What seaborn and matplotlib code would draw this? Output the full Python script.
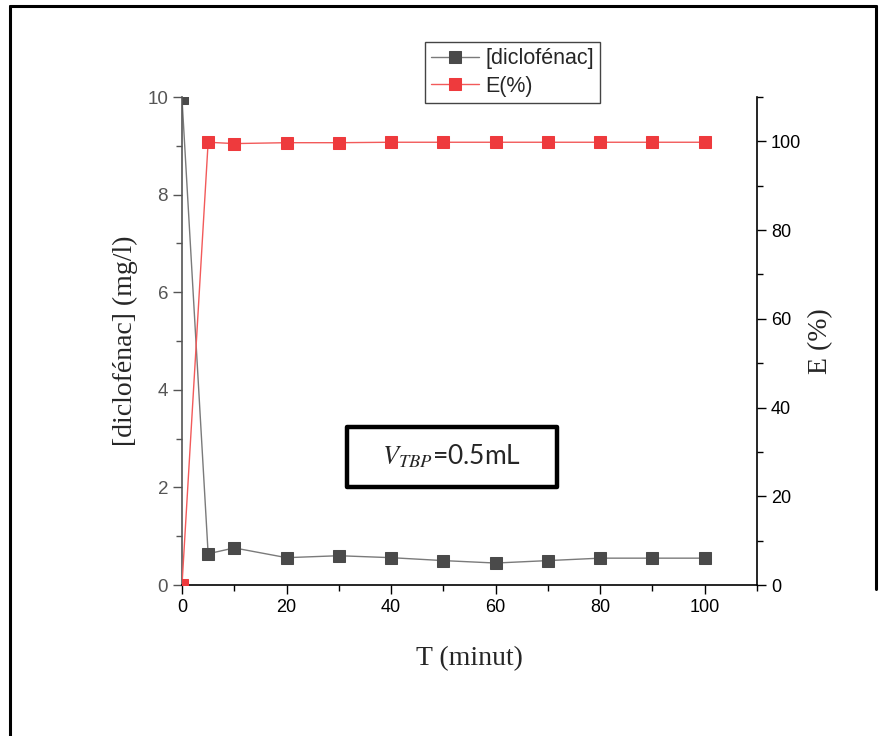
import matplotlib
matplotlib.use("Agg")
import matplotlib.pyplot as plt
from matplotlib.lines import Line2D
from matplotlib.patches import Rectangle
from matplotlib.ticker import MultipleLocator
import seaborn as sns
import pandas as pd

# time (min)
t = [0, 5, 10, 20, 30, 40, 50, 60, 70, 80, 90, 100]
# diclofenac concentration (mg/l)
conc = [9.97, 0.64, 0.76, 0.56, 0.60, 0.56, 0.50, 0.45, 0.50, 0.55, 0.55, 0.55]
# extraction efficiency E(%)
eff = [0, 99.8, 99.5, 99.7, 99.7, 99.8, 99.8, 99.8, 99.8, 99.8, 99.8, 99.8]

df = pd.DataFrame({"t": t, "conc": conc, "eff": eff})

sns.set_style("ticks")
plt.rcParams["font.family"] = ["Liberation Sans", "DejaVu Sans"]
plt.rcParams["mathtext.fontset"] = "stix"

fig = plt.figure(figsize=(8.82, 7.36), dpi=100)
ax = fig.add_axes([182 / 882, 1 - 585 / 736, 575 / 882, 488 / 736])
ax2 = ax.twinx()

grey = "#555555"
sns.lineplot(data=df, x="t", y="conc", ax=ax, color="#7a7a7a", lw=1,
             marker="s", markersize=8, markerfacecolor="#4a4a4a",
             markeredgecolor="#4a4a4a", label="[diclofénac]", legend=False)
sns.lineplot(data=df, x="t", y="eff", ax=ax2, color="#f25a5a", lw=1,
             marker="s", markersize=8, markerfacecolor="#ee3a3d",
             markeredgecolor="#ee3a3d", label="E(%)", legend=False)

ax.set_xlim(0, 110)
ax.set_ylim(0, 10)
ax2.set_ylim(0, 110)
ax.xaxis.set_major_locator(MultipleLocator(20))
ax.xaxis.set_minor_locator(MultipleLocator(10))
ax.yaxis.set_major_locator(MultipleLocator(2))
ax.yaxis.set_minor_locator(MultipleLocator(1))
ax2.yaxis.set_major_locator(MultipleLocator(20))
ax2.yaxis.set_minor_locator(MultipleLocator(10))
ax.set_xticks([0, 20, 40, 60, 80, 100])

for a in (ax, ax2):
    a.spines["top"].set_visible(False)
ax.spines["right"].set_visible(False)
ax2.spines["left"].set_visible(False)
ax2.spines["bottom"].set_visible(False)
ax.spines["left"].set_color(grey)
ax.spines["left"].set_linewidth(1.2)
ax.spines["bottom"].set_color("black")
ax.spines["bottom"].set_linewidth(1.2)
ax2.spines["right"].set_color("black")
ax2.spines["right"].set_linewidth(1.2)

ax.tick_params(axis="x", which="major", length=6.5, width=1, labelsize=13,
               colors="black", direction="out")
ax.tick_params(axis="x", which="minor", length=4, width=1, colors="black")
ax.tick_params(axis="y", which="major", length=6.5, width=1, labelsize=13.5,
               colors=grey, direction="out")
ax.tick_params(axis="y", which="minor", length=4, width=1, colors=grey)
ax2.tick_params(axis="y", which="major", length=6.5, width=1, labelsize=13,
                colors="black", direction="out")
ax2.tick_params(axis="y", which="minor", length=4, width=1, colors="black")

serif = ["Liberation Serif", "DejaVu Serif"]
ax.set_xlabel("T (minut)", family=serif, fontsize=20, labelpad=22)
ax.set_ylabel("[diclofénac] (mg/l)", family=serif, fontsize=20, labelpad=7)
ax2.set_ylabel("E (%)", family=serif, fontsize=20, labelpad=5)

# annotation box
ax.add_patch(Rectangle((31.5, 2.01), 40.2, 1.23, fill=False, lw=3.2,
                       edgecolor="black", zorder=5, joinstyle="round"))
ax.text(51.6, 2.63, r"$V_{TBP}$=0.5mL", ha="center", va="center",
        fontsize=19, family=["Lato", "DejaVu Sans"], zorder=6)

# legend
h1, l1 = ax.get_legend_handles_labels()
h2, l2 = ax2.get_legend_handles_labels()
leg = fig.legend(h1 + h2, l1 + l2, loc="upper left",
                 bbox_to_anchor=(425 / 882, 1 - 42 / 736), fontsize=15.5,
                 frameon=True, fancybox=False, edgecolor="#444444",
                 framealpha=1, handlelength=2.2, handletextpad=0.3,
                 borderpad=0.3, labelspacing=0.3, borderaxespad=0)
leg.get_frame().set_linewidth(1)

# outer frame
fig.add_artist(Line2D([10 / 882, 10 / 882], [0, 1 - 6 / 736], color="black",
                      lw=2.2, transform=fig.transFigure))
fig.add_artist(Line2D([10 / 882, 876 / 882], [1 - 6 / 736, 1 - 6 / 736],
                      color="black", lw=2.2, transform=fig.transFigure))
fig.add_artist(Line2D([876 / 882, 876 / 882], [1 - 6 / 736, 0.2],
                      color="black", lw=2.2, transform=fig.transFigure))

fig.savefig("out.png", dpi=100)
